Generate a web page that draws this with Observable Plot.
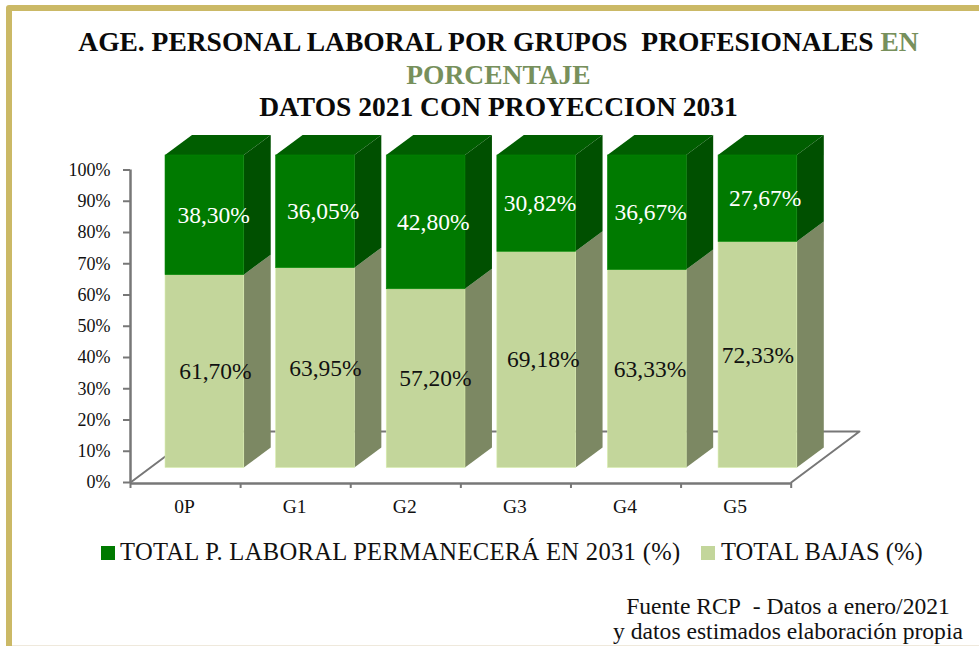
<!DOCTYPE html>
<html lang="es">
<head>
<meta charset="utf-8">
<script src="https://cdn.jsdelivr.net/npm/d3@7"></script>
<script src="https://cdn.jsdelivr.net/npm/@observablehq/plot@0.6"></script>
<style>
html,body{margin:0;padding:0;background:#fff;overflow:hidden}
body{width:979px;height:646px;position:relative;font-family:"Liberation Serif",serif;color:#111}
#frame{position:absolute;left:6px;top:5px;width:1100px;height:900px;border:6.5px solid #cbb966;border-radius:3px;box-sizing:border-box}
#foot{position:absolute;left:12px;right:0;top:645px;height:1px;background:#efe9dc}
#title{position:absolute;left:60px;width:877px;top:26px;text-align:center;font-weight:bold;font-size:27.5px;line-height:32.5px;color:#0a0a0a}
#title .g{color:#77905c}
#chart{position:absolute;left:0;top:122px}
#legend{position:absolute;left:0;top:536px;width:979px;height:32px;font-size:24.6px}
#legend span{position:absolute;white-space:nowrap;top:0;line-height:32px}
#legend i{position:absolute;top:10px;width:14px;height:14px}
#source{position:absolute;left:588px;width:400px;top:594px;text-align:center;font-size:23.6px;line-height:25px}
</style>
</head>
<body>
<div id="frame"></div>
<div id="foot"></div>
<div id="title">AGE. PERSONAL LABORAL POR GRUPOS&nbsp; PROFESIONALES <span class="g">EN</span><br><span class="g">PORCENTAJE</span><br>DATOS 2021 CON PROYECCION 2031</div>
<div id="chart"></div>
<div id="legend">
  <i style="left:101px;background:#007a00"></i><span id="l1" style="left:120px;letter-spacing:.3px">TOTAL P. LABORAL PERMANECERÁ EN 2031 (%)</span>
  <i style="left:701px;background:#c3d69b"></i><span id="l2" style="left:721px">TOTAL BAJAS (%)</span>
</div>
<div id="source">Fuente RCP&nbsp; - Datos a enero/2021<br>y datos estimados elaboración propia</div>
<script>
// ---- data ----
const grupos = ["0P", "G1", "G2", "G3", "G4", "G5"];
const permanece = [38.30, 36.05, 42.80, 30.82, 36.67, 27.67];
const bajas = [61.70, 63.95, 57.20, 69.18, 63.33, 72.33];

// ---- drawing constants, in scale units (one category = 1 on x, percent on y) ----
const FLOOR = {dx: 0.62, dy: 16.3};
const BAR = {left: 0.318, width: 0.715, step: 1.0045, lift: 4.64, dx: 0.245, dy: 6.4};
const nudgeTop = [0.08, 0.07, 0.065, 0.03, 0.03, 0.065];
const nudgeLow = [0.095, 0.09, 0.085, 0.06, 0.025, 0.0];

const C = {top: "#007a00", topSide: "#005000", topCap: "#005e00", low: "#c3d69b", lowSide: "#7c8863", axis: "#777"};

const fmt = v => v.toFixed(2).replace(".", ",") + "%";
const barLeft = i => i * BAR.step + BAR.left;
const segs = grupos.flatMap((g, i) => {
  const l = barLeft(i), r = l + BAR.width;
  return [
    {g, i, l, r, y0: BAR.lift, y1: BAR.lift + bajas[i], fill: C.low, side: C.lowSide, label: fmt(bajas[i]), ink: "#111", nudge: nudgeLow[i]},
    {g, i, l, r, y0: BAR.lift + bajas[i], y1: BAR.lift + 100, fill: C.top, side: C.topSide, label: fmt(permanece[i]), ink: "#fff", nudge: nudgeTop[i]}
  ];
});
const sidePts = segs.flatMap((s, k) => [
  {k, fill: s.side, x: s.r, y1: s.y0, y2: s.y1},
  {k, fill: s.side, x: s.r + BAR.dx, y1: s.y0 + BAR.dy, y2: s.y1 + BAR.dy}
]);
const capPts = grupos.flatMap((g, i) => {
  const l = barLeft(i), r = l + BAR.width, y = BAR.lift + 100;
  return [
    {i, y, x1: l, x2: r},
    {i, y: y + BAR.dy, x1: l + BAR.dx, x2: r + BAR.dx}
  ];
});
const floor = [
  {x: 0, y: 0},
  {x: FLOOR.dx, y: FLOOR.dy},
  {x: grupos.length + FLOOR.dx, y: FLOOR.dy},
  {x: grupos.length, y: 0}
];

const plot = Plot.plot({
  width: 979,
  height: 398,
  marginTop: 12,
  marginLeft: 130,
  marginRight: 60,
  marginBottom: 38,
  x: {domain: [0, grupos.length], range: [130, 790.7]},
  y: {domain: [0, 100], range: [360, 47.5]},
  style: {fontFamily: "Liberation Serif, serif", background: "transparent", color: "#111", overflow: "visible"},
  marks: [
    Plot.line(floor, {x: "x", y: "y", stroke: C.axis, strokeWidth: 2}),
    Plot.axisY({ticks: d3.range(0, 101, 10), tickFormat: d => d + "%", label: null, tickSize: 7, tickPadding: 13, fontSize: 18, stroke: C.axis, strokeWidth: 2, color: "#111", anchor: "left"}),
    Plot.ruleX([0], {y1: () => 0, y2: () => 100, stroke: C.axis, strokeWidth: 2.5}),
    Plot.ruleY([0], {x1: () => 0, x2: () => grupos.length, stroke: C.axis, strokeWidth: 2.5, dy: 1}),
    Plot.axisX({ticks: d3.range(0, grupos.length + 1), tickFormat: () => "", label: null, tickSize: 5, stroke: C.axis, strokeWidth: 2, anchor: "bottom", dy: 1}),
    Plot.axisX({ticks: grupos.map((g, i) => i + 0.5), tickFormat: d => grupos[Math.floor(d)], label: null, tickSize: 0, tickPadding: 17, fontSize: 19.5, anchor: "bottom", dx: -1}),
    Plot.areaX(capPts, {y: "y", x1: "x1", x2: "x2", z: "i", fill: C.topCap, curve: "linear", clip: true}),
    Plot.area(sidePts, {x1: "x", y1: "y1", y2: "y2", z: "k", fill: "fill", curve: "linear", clip: true}),
    Plot.rect(segs, {x1: "l", x2: "r", y1: "y0", y2: "y1", fill: "fill", stroke: d => d3.color(d.fill).brighter(0.3).formatHex(), strokeWidth: 0.6}),
    Plot.text(segs, {
      x: d => (d.l + d.r) / 2 + d.nudge,
      y: d => (d.y0 + d.y1) / 2,
      text: "label",
      fill: "ink",
      fontSize: 23.5
    })
  ]
});
document.getElementById("chart").append(plot);
</script>
</body>
</html>
